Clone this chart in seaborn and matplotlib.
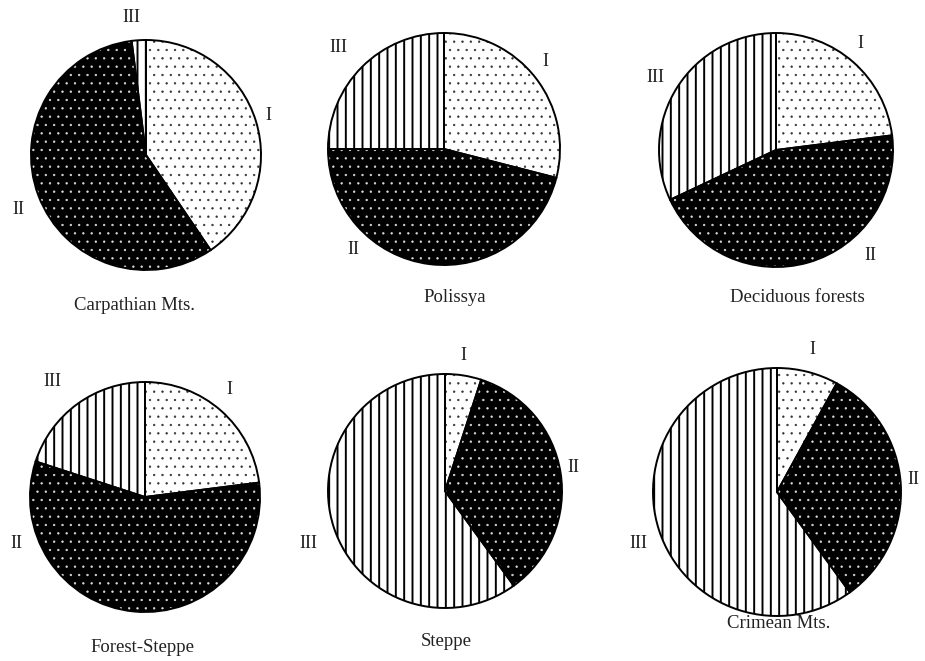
import matplotlib
matplotlib.use("Agg")
import matplotlib.pyplot as plt
import seaborn as sns

# shares (%) of groups I, II, III in each region
regions = ["Carpathian Mts.", "Polissya", "Deciduous forests",
           "Forest-Steppe", "Steppe", "Crimean Mts."]
group_labels = ["I", "II", "III"]
carpathian = [40.5, 57.5, 2.0]
polissya = [29, 46, 25]
deciduous = [23, 45, 32]
forest_steppe = [23, 57, 20]
steppe = [5, 35, 60]
crimean = [8, 32, 60]
shares = [carpathian, polissya, deciduous, forest_steppe, steppe, crimean]

# layout in pixels (top-left origin)
W, H = 925, 661
centers = [(146, 155), (444, 149), (776, 150), (145, 497), (445, 491), (777, 492)]
radii = [115, 116, 117, 115, 117, 124]
title_pos = [(135, 305), (455, 298), (797, 297), (142, 647), (446, 642), (779, 623)]
label_pos = [
    [(268, 115), (18, 210), (131, 17)],
    [(545, 62), (353, 250), (338, 47)],
    [(860, 43), (870, 255), (655, 78)],
    [(229, 390), (16, 543), (52, 382)],
    [(463, 355), (573, 467), (308, 543)],
    [(812, 350), (913, 480), (638, 543)],
]

fills = ["white", "black", "white"]
hatch_colors = ["#333333", "#dddddd", "black"]
hatches = ["..", "..", "||"]
hatch_widths = [0.45, 0.45, 1.4]

sns.set_theme(style="white")
plt.rcParams["font.family"] = ["Liberation Serif", "DejaVu Serif"]
plt.rcParams["hatch.linewidth"] = 1.4

fig = plt.figure(figsize=(W / 100, H / 100), dpi=100)
ax = fig.add_axes([0, 0, 1, 1])

for i, vals in enumerate(shares):
    cx, cy = centers[i]
    wedges, _ = ax.pie(vals, colors=fills, hatch=hatches, startangle=90,
                       counterclock=False, center=(cx, H - cy), radius=radii[i],
                       wedgeprops=dict(linewidth=0))
    for w, hc, hw in zip(wedges, hatch_colors, hatch_widths):
        w.set_edgecolor(hc)
        if hasattr(w, "set_hatch_linewidth"):
            w.set_hatch_linewidth(hw)
    # outlines on top
    ax.pie(vals, startangle=90, counterclock=False, center=(cx, H - cy),
           radius=radii[i],
           wedgeprops=dict(fill=False, edgecolor="black", linewidth=1.4))
    for lab, (lx, ly) in zip(group_labels, label_pos[i]):
        ax.text(lx, H - ly, lab, ha="center", va="center", fontsize=13,
                color="#222222")
    tx, ty = title_pos[i]
    ax.text(tx, H - ty, regions[i], ha="center", va="center", fontsize=13.5,
            color="#222222")

ax.set_xlim(0, W)
ax.set_ylim(0, H)
ax.set_aspect("auto")
ax.axis("off")
fig.savefig("out.png", dpi=100, facecolor="white")
